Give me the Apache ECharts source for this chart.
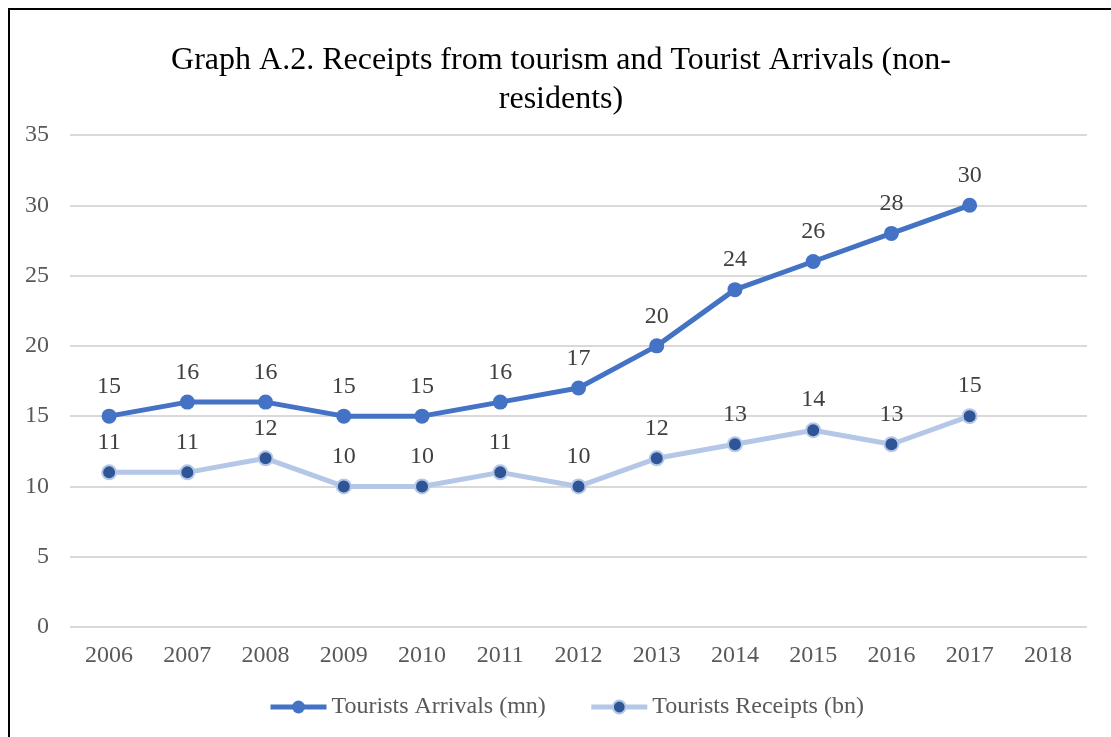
<!DOCTYPE html>
<html>
<head>
<meta charset="utf-8">
<script src="https://cdn.jsdelivr.net/npm/echarts@6/dist/echarts.min.js"></script>
<style>
  html, body { margin: 0; padding: 0; background: #fff; }
  #chart { width: 1111px; height: 737px; }
</style>
</head>
<body>
<div id="chart"></div>
<script>
// Years on the category axis
const years = ['2006', '2007', '2008', '2009', '2010', '2011', '2012', '2013', '2014', '2015', '2016', '2017', '2018'];
// Tourist arrivals, millions (no value for 2018)
const arrivals = [15, 16, 16, 15, 15, 16, 17, 20, 24, 26, 28, 30, null];
// Tourism receipts, billions (no value for 2018)
const receipts = [11, 11, 12, 10, 10, 11, 10, 12, 13, 14, 13, 15, null];

const serif = '"Liberation Serif", "Times New Roman", serif';
const titleText = 'Graph A.2. Receipts from tourism and Tourist Arrivals (non-\nresidents)';

const chart = echarts.init(document.getElementById('chart'), null, { renderer: 'canvas' });
chart.setOption({
  backgroundColor: '#ffffff',
  animation: false,
  graphic: [
    {
      // outer frame
      type: 'rect',
      shape: { x: 9, y: 9, width: 1110, height: 740 },
      style: { fill: 'none', stroke: '#000000', lineWidth: 2 },
      silent: true
    },
    {
      // two-line centred title
      type: 'text',
      x: 561,
      y: 41,
      style: {
        text: titleText,
        font: '32px ' + serif,
        fill: '#000000',
        align: 'center',
        verticalAlign: 'top',
        lineHeight: 39
      },
      silent: true
    }
  ],
  grid: { left: 70, right: 24, top: 135, bottom: 110 },
  legend: {
    bottom: 18,
    left: 268,
    padding: 0,
    itemGap: 43,
    itemWidth: 56,
    itemHeight: 16,
    lineStyle: { width: 5 },
    textStyle: { fontFamily: serif, fontSize: 24, color: '#595959' },
    data: ['Tourists Arrivals (mn)', 'Tourists Receipts (bn)']
  },
  xAxis: {
    type: 'category',
    data: years,
    boundaryGap: true,
    axisLine: { show: false },
    axisTick: { show: false },
    axisLabel: { fontFamily: serif, fontSize: 24, color: '#595959', margin: 17 }
  },
  yAxis: {
    type: 'value',
    min: 0,
    max: 35,
    interval: 5,
    axisLine: { show: false },
    axisTick: { show: false },
    splitLine: { lineStyle: { color: '#d9d9d9', width: 2 } },
    axisLabel: { fontFamily: serif, fontSize: 24, color: '#595959', margin: 21 }
  },
  series: [
    {
      name: 'Tourists Arrivals (mn)',
      type: 'line',
      data: arrivals,
      symbol: 'circle',
      symbolSize: 15,
      lineStyle: { color: '#4472C4', width: 5 },
      itemStyle: { color: '#4472C4' },
      label: {
        show: true,
        position: 'top',
        distance: 10,
        fontFamily: serif,
        fontSize: 24,
        color: '#404040'
      },
      z: 3
    },
    {
      name: 'Tourists Receipts (bn)',
      type: 'line',
      data: receipts,
      symbol: 'circle',
      symbolSize: 14,
      lineStyle: { color: '#B4C7E7', width: 5 },
      itemStyle: { color: '#2F5597', borderColor: '#B4C7E7', borderWidth: 2 },
      label: {
        show: true,
        position: 'top',
        distance: 10,
        fontFamily: serif,
        fontSize: 24,
        color: '#404040'
      },
      z: 2
    }
  ]
});
</script>
</body>
</html>
